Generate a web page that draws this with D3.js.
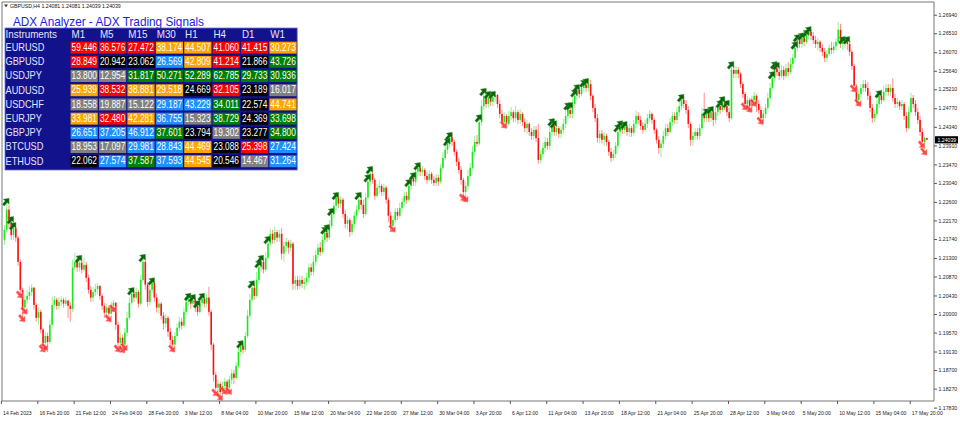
<!DOCTYPE html>
<html><head><meta charset="utf-8">
<script src="https://cdn.jsdelivr.net/npm/d3@7"></script>
<style>html,body{margin:0;padding:0;background:#fff;}svg{display:block;}</style>
</head><body>
<svg id="chart" width="960" height="422"></svg>
<script>
// ---------------- DATA ----------------
const chartSymbol = "GBPUSD,H4";
const headerOHLC = [1.24081, 1.24081, 1.24039, 1.24039];
const title = "ADX Analyzer - ADX Trading Signals";
const firstOpen = 1.2172;
const closes = [
1.2195,1.2242,1.2213,1.2183,1.2199,1.2177,1.2121,1.2056,1.2015,1.2033,
1.2042,1.2051,1.2061,1.2021,1.1991,1.2005,1.1964,1.1933,1.1949,1.1935,
1.1975,1.2021,1.2033,1.2019,1.2028,1.2033,1.2024,1.2031,1.2019,1.2012,
1.2108,1.2121,1.2108,1.2119,1.2103,1.2114,1.2084,1.2056,1.2038,1.2051,
1.2058,1.2065,1.2042,1.2019,1.2003,1.2015,1.2001,1.2019,1.2026,1.1975,
1.1933,1.1945,1.1929,1.1957,1.1991,1.2026,1.2047,1.2038,1.2051,1.2024,
1.2079,1.2121,1.2068,1.2028,1.2056,1.2072,1.2038,1.2015,1.2024,1.1996,
1.1978,1.1991,1.1959,1.1940,1.1929,1.1949,1.1968,1.1982,1.1973,1.2005,
1.2028,1.2035,1.2024,1.2033,1.2019,1.2005,1.2026,1.2035,1.2024,1.2038,
1.2005,1.1929,1.1859,1.1829,1.1838,1.1819,1.1833,1.1843,1.1829,1.1848,
1.1862,1.1852,1.1880,1.1912,1.1926,1.1917,1.1949,1.1996,1.2033,1.2061,
1.2042,1.2079,1.2108,1.2121,1.2103,1.2130,1.2163,1.2186,1.2172,1.2190,
1.2177,1.2186,1.2140,1.2158,1.2167,1.2154,1.2163,1.2070,1.2079,1.2065,
1.2079,1.2070,1.2074,1.2084,1.2108,1.2098,1.2121,1.2137,1.2154,1.2144,
1.2172,1.2188,1.2177,1.2204,1.2232,1.2251,1.2270,1.2256,1.2265,1.2232,
1.2209,1.2218,1.2190,1.2209,1.2228,1.2242,1.2265,1.2253,1.2232,1.2270,
1.2307,1.2325,1.2311,1.2274,1.2293,1.2297,1.2283,1.2293,1.2265,1.2228,
1.2204,1.2218,1.2237,1.2228,1.2246,1.2260,1.2274,1.2265,1.2297,1.2316,
1.2307,1.2330,1.2339,1.2330,1.2334,1.2320,1.2311,1.2325,1.2311,1.2304,
1.2316,1.2307,1.2339,1.2362,1.2381,1.2395,1.2409,1.2399,1.2376,1.2353,
1.2334,1.2311,1.2283,1.2297,1.2320,1.2339,1.2376,1.2399,1.2395,1.2445,
1.2482,1.2506,1.2487,1.2501,1.2492,1.2503,1.2508,1.2487,1.2464,1.2445,
1.2459,1.2441,1.2459,1.2468,1.2454,1.2468,1.2450,1.2464,1.2445,1.2431,
1.2441,1.2422,1.2413,1.2427,1.2408,1.2357,1.2371,1.2385,1.2399,1.2390,
1.2422,1.2436,1.2422,1.2431,1.2418,1.2427,1.2441,1.2459,1.2473,1.2464,
1.2487,1.2506,1.2520,1.2510,1.2524,1.2531,1.2524,1.2533,1.2506,1.2478,
1.2454,1.2408,1.2418,1.2404,1.2413,1.2399,1.2376,1.2362,1.2371,1.2390,
1.2422,1.2436,1.2427,1.2434,1.2422,1.2431,1.2420,1.2441,1.2459,1.2450,
1.2436,1.2427,1.2441,1.2454,1.2464,1.2450,1.2427,1.2404,1.2385,1.2395,
1.2413,1.2431,1.2422,1.2445,1.2459,1.2450,1.2468,1.2482,1.2496,1.2487,
1.2473,1.2441,1.2404,1.2413,1.2422,1.2413,1.2431,1.2464,1.2454,1.2464,
1.2454,1.2468,1.2450,1.2468,1.2482,1.2473,1.2492,1.2482,1.2468,1.2454,
1.2566,1.2557,1.2566,1.2557,1.2533,1.2510,1.2487,1.2496,1.2482,1.2496,
1.2506,1.2487,1.2473,1.2454,1.2464,1.2478,1.2501,1.2524,1.2547,1.2570,
1.2561,1.2552,1.2566,1.2552,1.2570,1.2561,1.2580,1.2594,1.2617,1.2635,
1.2626,1.2640,1.2631,1.2647,1.2654,1.2645,1.2635,1.2626,1.2631,1.2617,
1.2608,1.2594,1.2603,1.2617,1.2612,1.2621,1.2631,1.2659,1.2626,1.2631,
1.2635,1.2626,1.2608,1.2575,1.2529,1.2496,1.2510,1.2524,1.2533,1.2524,
1.2506,1.2478,1.2454,1.2464,1.2487,1.2506,1.2496,1.2515,1.2524,1.2515,
1.2524,1.2501,1.2487,1.2492,1.2482,1.2487,1.2459,1.2431,1.2468,1.2501,
1.2487,1.2468,1.2450,1.2422,1.2399,1.24081,1.24039];
const highs = [
1.2206,1.2265,1.2253,1.2223,1.2209,1.2204,1.2181,1.2126,1.2061,1.2045,
1.2056,1.2065,1.2070,1.2063,1.2026,1.2015,1.2010,1.1968,1.1959,1.1957,
1.1987,1.2040,1.2042,1.2038,1.2038,1.2042,1.2038,1.2040,1.2033,1.2028,
1.2126,1.2142,1.2135,1.2133,1.2126,1.2130,1.2121,1.2091,1.2065,1.2063,
1.2070,1.2072,1.2068,1.2047,1.2026,1.2024,1.2021,1.2028,1.2033,1.2028,
1.1982,1.1957,1.1952,1.1968,1.2005,1.2038,1.2058,1.2056,1.2061,1.2056,
1.2091,1.2135,1.2126,1.2074,1.2065,1.2081,1.2074,1.2047,1.2033,1.2028,
1.2005,1.2001,1.1996,1.1968,1.1949,1.1957,1.1978,1.1994,1.1991,1.2015,
1.2040,1.2045,1.2042,1.2042,1.2038,1.2028,1.2035,1.2045,1.2040,1.2047,
1.2063,1.2010,1.1933,1.1866,1.1848,1.1843,1.1843,1.1852,1.1848,1.1857,
1.1871,1.1871,1.1889,1.1924,1.1935,1.1933,1.1959,1.2010,1.2047,1.2074,
1.2070,1.2098,1.2121,1.2133,1.2130,1.2144,1.2177,1.2197,1.2195,1.2202,
1.2195,1.2195,1.2199,1.2167,1.2177,1.2172,1.2172,1.2167,1.2089,1.2089,
1.2089,1.2089,1.2084,1.2096,1.2117,1.2117,1.2135,1.2149,1.2163,1.2167,
1.2181,1.2199,1.2204,1.2218,1.2242,1.2260,1.2279,1.2277,1.2274,1.2270,
1.2242,1.2228,1.2223,1.2218,1.2237,1.2253,1.2279,1.2277,1.2265,1.2281,
1.2320,1.2339,1.2339,1.2316,1.2302,1.2311,1.2302,1.2302,1.2297,1.2270,
1.2237,1.2228,1.2246,1.2246,1.2258,1.2270,1.2283,1.2283,1.2309,1.2325,
1.2325,1.2341,1.2348,1.2346,1.2343,1.2339,1.2330,1.2334,1.2330,1.2320,
1.2325,1.2323,1.2348,1.2376,1.2390,1.2404,1.2418,1.2420,1.2404,1.2381,
1.2362,1.2343,1.2316,1.2307,1.2334,1.2350,1.2390,1.2413,1.2415,1.2459,
1.2496,1.2520,1.2513,1.2513,1.2508,1.2513,1.2517,1.2510,1.2496,1.2473,
1.2468,1.2464,1.2471,1.2480,1.2473,1.2482,1.2473,1.2475,1.2468,1.2454,
1.2450,1.2445,1.2431,1.2436,1.2436,1.2441,1.2381,1.2397,1.2411,1.2408,
1.2434,1.2450,1.2445,1.2441,1.2436,1.2436,1.2452,1.2471,1.2487,1.2487,
1.2499,1.2517,1.2529,1.2529,1.2536,1.2540,1.2543,1.2547,1.2543,1.2510,
1.2487,1.2464,1.2427,1.2427,1.2422,1.2418,1.2404,1.2385,1.2381,1.2399,
1.2436,1.2445,1.2445,1.2443,1.2438,1.2441,1.2436,1.2450,1.2471,1.2468,
1.2459,1.2445,1.2450,1.2464,1.2473,1.2468,1.2454,1.2431,1.2413,1.2404,
1.2425,1.2441,1.2441,1.2454,1.2468,1.2468,1.2480,1.2492,1.2506,1.2506,
1.2496,1.2482,1.2445,1.2422,1.2431,1.2431,1.2441,1.2478,1.2513,1.2473,
1.2473,1.2478,1.2473,1.2482,1.2492,1.2492,1.2501,1.2499,1.2492,1.2478,
1.2582,1.2575,1.2575,1.2573,1.2561,1.2538,1.2515,1.2506,1.2501,1.2506,
1.2515,1.2510,1.2496,1.2482,1.2473,1.2487,1.2513,1.2536,1.2559,1.2582,
1.2580,1.2575,1.2577,1.2575,1.2580,1.2584,1.2594,1.2603,1.2628,1.2645,
1.2645,1.2649,1.2649,1.2656,1.2663,1.2661,1.2654,1.2645,1.2640,1.2635,
1.2626,1.2617,1.2612,1.2626,1.2631,1.2631,1.2640,1.2677,1.2673,1.2640,
1.2645,1.2640,1.2635,1.2612,1.2580,1.2533,1.2520,1.2533,1.2543,1.2543,
1.2538,1.2515,1.2487,1.2473,1.2496,1.2515,1.2520,1.2529,1.2533,1.2533,
1.2533,1.2547,1.2510,1.2501,1.2496,1.2496,1.2492,1.2468,1.2482,1.2513,
1.2508,1.2496,1.2478,1.2459,1.2431,1.2411,1.24081];
const lows = [
1.2160,1.2190,1.2199,1.2172,1.2172,1.2167,1.2112,1.2042,1.1987,1.2005,
1.2024,1.2033,1.2042,1.2010,1.1982,1.1975,1.1955,1.1917,1.1921,1.1912,
1.1931,1.1973,1.2015,1.2010,1.2010,1.2019,1.2015,1.2019,1.1991,1.1982,
1.2005,1.2103,1.2098,1.2098,1.2094,1.2098,1.2074,1.2047,1.2028,1.2028,
1.2042,1.2045,1.2033,1.2010,1.1991,1.1991,1.1987,1.1991,1.2010,1.1964,
1.1917,1.1919,1.1915,1.1921,1.1949,1.1987,1.2021,1.2028,1.2033,1.2015,
1.2019,1.2074,1.2056,1.2017,1.2021,1.2049,1.2028,1.2003,1.2001,1.1987,
1.1964,1.1968,1.1947,1.1929,1.1917,1.1921,1.1940,1.1959,1.1964,1.1968,
1.1998,1.2019,1.2012,1.2017,1.2005,1.1996,1.2001,1.2019,1.2015,1.2015,
1.1996,1.1917,1.1843,1.1815,1.1810,1.1805,1.1810,1.1819,1.1815,1.1819,
1.1838,1.1838,1.1848,1.1875,1.1903,1.1908,1.1912,1.1945,1.1991,1.2028,
1.2033,1.2038,1.2070,1.2098,1.2094,1.2098,1.2126,1.2158,1.2163,1.2163,
1.2167,1.2167,1.2126,1.2121,1.2144,1.2140,1.2144,1.2056,1.2056,1.2056,
1.2058,1.2061,1.2056,1.2065,1.2074,1.2089,1.2089,1.2112,1.2130,1.2135,
1.2140,1.2163,1.2167,1.2172,1.2199,1.2223,1.2242,1.2246,1.2246,1.2223,
1.2199,1.2195,1.2179,1.2183,1.2199,1.2218,1.2237,1.2242,1.2223,1.2228,
1.2265,1.2297,1.2302,1.2265,1.2270,1.2279,1.2274,1.2274,1.2256,1.2213,
1.2190,1.2195,1.2209,1.2218,1.2223,1.2237,1.2251,1.2256,1.2260,1.2288,
1.2297,1.2297,1.2320,1.2320,1.2320,1.2311,1.2302,1.2307,1.2302,1.2297,
1.2297,1.2297,1.2302,1.2334,1.2357,1.2371,1.2385,1.2390,1.2367,1.2343,
1.2325,1.2300,1.2267,1.2265,1.2288,1.2316,1.2334,1.2367,1.2388,1.2390,
1.2436,1.2473,1.2478,1.2478,1.2482,1.2482,1.2492,1.2478,1.2454,1.2436,
1.2436,1.2431,1.2436,1.2450,1.2445,1.2445,1.2441,1.2441,1.2436,1.2422,
1.2418,1.2413,1.2404,1.2404,1.2399,1.2348,1.2350,1.2362,1.2376,1.2381,
1.2381,1.2413,1.2413,1.2413,1.2408,1.2408,1.2418,1.2431,1.2450,1.2454,
1.2454,1.2478,1.2496,1.2501,1.2506,1.2515,1.2515,1.2515,1.2496,1.2468,
1.2445,1.2397,1.2395,1.2395,1.2390,1.2390,1.2367,1.2353,1.2355,1.2362,
1.2381,1.2413,1.2418,1.2418,1.2413,1.2411,1.2411,1.2413,1.2431,1.2441,
1.2427,1.2418,1.2422,1.2431,1.2445,1.2441,1.2418,1.2395,1.2371,1.2364,
1.2385,1.2404,1.2413,1.2418,1.2436,1.2441,1.2441,1.2459,1.2473,1.2478,
1.2464,1.2431,1.2390,1.2390,1.2404,1.2404,1.2404,1.2427,1.2445,1.2445,
1.2445,1.2445,1.2436,1.2441,1.2459,1.2464,1.2468,1.2473,1.2459,1.2445,
1.2450,1.2547,1.2547,1.2547,1.2524,1.2501,1.2478,1.2473,1.2473,1.2478,
1.2487,1.2468,1.2464,1.2445,1.2441,1.2454,1.2473,1.2496,1.2520,1.2538,
1.2552,1.2543,1.2547,1.2543,1.2547,1.2552,1.2556,1.2570,1.2584,1.2608,
1.2617,1.2617,1.2621,1.2626,1.2635,1.2635,1.2626,1.2617,1.2612,1.2608,
1.2598,1.2584,1.2584,1.2598,1.2603,1.2603,1.2612,1.2626,1.2617,1.2612,
1.2617,1.2612,1.2598,1.2566,1.2520,1.2487,1.2487,1.2501,1.2515,1.2515,
1.2496,1.2468,1.2443,1.2445,1.2459,1.2478,1.2487,1.2492,1.2506,1.2506,
1.2506,1.2492,1.2478,1.2478,1.2473,1.2473,1.2450,1.2422,1.2427,1.2464,
1.2478,1.2459,1.2441,1.2413,1.2390,1.2374,1.24039];
const upSignals = [1,3,4,33,56,61,65,81,83,85,87,104,109,112,113,116,141,142,144,146,156,160,161,178,180,182,195,196,209,211,213,215,241,242,248,249,251,252,255,256,270,271,273,298,309,311,315,316,318,320,338,339,340,348,349,351,353,354,369,371,385];
const downSignals = [7,8,9,17,18,46,48,50,52,53,74,93,95,97,99,171,202,203,220,326,328,330,333,374,376,404,405];
const xTickEvery = 16;
const xTickLabels = ["14 Feb 2023","16 Feb 20:00","21 Feb 12:00","24 Feb 04:00","28 Feb 20:00","3 Mar 12:00","8 Mar 04:00","10 Mar 20:00","15 Mar 12:00","20 Mar 04:00","22 Mar 20:00","27 Mar 12:00","30 Mar 04:00","3 Apr 20:00","6 Apr 12:00","11 Apr 04:00","13 Apr 20:00","18 Apr 12:00","21 Apr 04:00","25 Apr 20:00","28 Apr 12:00","3 May 04:00","5 May 20:00","10 May 12:00","15 May 04:00","17 May 20:00"];
const yTickValues = [1.26940,1.26510,1.26070,1.25640,1.25210,1.24770,1.24340,1.23910,1.23470,1.23040,1.22600,1.22170,1.21740,1.21300,1.20870,1.20430,1.20000,1.19570,1.19130,1.18700,1.18270,1.17830];
const instruments = ["EURUSD","GBPUSD","USDJPY","AUDUSD","USDCHF","EURJPY","GBPJPY","BTCUSD","ETHUSD"];
const timeframes = ["M1","M5","M15","M30","H1","H4","D1","W1"];
const adxValues = [
[59.446,36.576,27.472,38.174,44.507,41.060,41.415,30.273],
[28.849,20.942,23.062,26.569,42.809,41.214,21.866,43.726],
[13.800,12.954,31.817,50.271,52.289,62.785,29.733,30.936],
[25.939,38.532,38.881,29.518,24.669,32.105,23.189,16.017],
[18.558,19.887,15.122,29.187,43.229,34.011,22.574,44.741],
[33.981,32.480,42.281,36.755,15.323,38.729,24.369,33.698],
[26.651,37.205,46.912,37.601,23.794,19.302,23.277,34.800],
[18.953,17.097,29.981,28.843,44.469,23.088,25.398,27.424],
[22.062,27.574,37.587,37.593,44.545,20.546,14.467,31.264]];
const adxStates = [
["strongSell","strongSell","strongSell","weakSell","weakSell","strongSell","strongSell","weakSell"],
["strongSell","flat","flat","weakBuy","weakSell","strongSell","flat","strongBuy"],
["noTrend","noTrend","strongBuy","strongBuy","strongBuy","strongBuy","strongBuy","strongBuy"],
["weakSell","strongSell","weakSell","weakSell","flat","strongSell","flat","noTrend"],
["noTrend","noTrend","noTrend","weakBuy","weakBuy","strongBuy","flat","weakSell"],
["weakSell","strongSell","weakSell","weakBuy","noTrend","strongBuy","flat","strongBuy"],
["weakBuy","weakBuy","weakBuy","strongBuy","flat","noTrend","flat","strongBuy"],
["noTrend","noTrend","weakBuy","weakBuy","weakSell","flat","strongSell","weakBuy"],
["flat","weakBuy","strongBuy","weakBuy","weakSell","flat","noTrend","weakBuy"]];

// ---------------- DRAW ----------------
const stateColor = {strongSell:"#ff0000", weakSell:"#ffa500", strongBuy:"#008000", weakBuy:"#1e90ff", flat:"#000000", noTrend:"#808080"};
const FONT = "'Liberation Sans', Arial, sans-serif";
const svg = d3.select("#chart");
const plot = {left:2, right:934, top:2, bottom:401};
const n = closes.length;
const bars = closes.map((c, i) => ({i, o: i ? closes[i-1] : firstOpen, h: highs[i], l: lows[i], c}));

const y = d3.scaleLinear().domain([1.17830, 1.26940]).range([407.6, 14.7]);
const x = d3.scaleBand().domain(d3.range(n)).range([3.3, 3.3 + n * 2.272]);
const cx = i => x(i) + x.bandwidth() / 2;

svg.append("rect").attr("width", 960).attr("height", 422).attr("fill", "#fff");
svg.append("clipPath").attr("id", "clip").append("rect")
  .attr("x", plot.left).attr("y", plot.top).attr("width", plot.right - plot.left).attr("height", plot.bottom - plot.top);

const g = svg.append("g").attr("clip-path", "url(#clip)");
const bull = "#1ee61e", bear = "#ff1010";
g.selectAll("line.wick").data(bars).join("line").attr("class", "wick")
  .attr("x1", d => cx(d.i)).attr("x2", d => cx(d.i))
  .attr("y1", d => y(d.h)).attr("y2", d => y(d.l))
  .attr("stroke", d => d.c >= d.o ? bull : bear).attr("stroke-width", 0.8).attr("stroke-opacity", 0.6);
g.selectAll("rect.body").data(bars).join("rect").attr("class", "body")
  .attr("x", d => cx(d.i) - 0.8).attr("width", 1.6)
  .attr("y", d => y(Math.max(d.o, d.c)))
  .attr("height", d => Math.max(0.8, Math.abs(y(d.o) - y(d.c))))
  .attr("fill", d => d.c >= d.o ? bull : bear);

const arrowPath = "M0,-4.5L3.8,0L1.3,0L1.3,4.5L-1.3,4.5L-1.3,0L-3.8,0Z";
g.selectAll("path.up").data(upSignals).join("path").attr("class", "up")
  .attr("d", arrowPath)
  .attr("transform", i => `translate(${cx(i) - 0.5},${y(highs[i]) + 2}) rotate(40)`)
  .attr("fill", "#0a640a").attr("stroke", "#3a9a3a").attr("stroke-width", 0.4);
g.selectAll("path.dn").data(downSignals).join("path").attr("class", "dn")
  .attr("d", arrowPath)
  .attr("transform", i => `translate(${cx(i) - 0.5},${y(lows[i]) - 1}) rotate(140)`)
  .attr("fill", "#ff2a2a").attr("fill-opacity", 0.85).attr("stroke", "#ff9a9a").attr("stroke-width", 0.4);

// frame
svg.append("path").attr("d", `M${plot.left},${plot.bottom}V${plot.top}H${plot.right}V${plot.bottom}H${plot.left}`)
  .attr("fill", "none").attr("stroke", "#777").attr("stroke-width", 1);

// y axis
const yAxis = svg.append("g").attr("transform", `translate(${plot.right},0)`)
  .call(d3.axisRight(y).tickValues(yTickValues).tickSize(3).tickPadding(1.5).tickFormat(d3.format(".5f")));
yAxis.select(".domain").remove();
yAxis.selectAll("line").attr("stroke", "#555");
yAxis.selectAll("text").attr("font-family", FONT).attr("font-size", 5.2).attr("fill", "#222");

// current price marker
const lastY = y(closes[n-1]);
svg.append("rect").attr("x", 935).attr("y", lastY - 3.6).attr("width", 23).attr("height", 7.2).attr("fill", "#000");
svg.append("text").attr("x", 937.5).attr("y", lastY + 1.8).attr("font-family", FONT).attr("font-size", 5.2)
  .attr("fill", "#fff").text(d3.format(".5f")(closes[n-1]));

// x axis
const xAxis = svg.append("g").attr("transform", `translate(-3,${plot.bottom})`)
  .call(d3.axisBottom(x).tickValues(d3.range(0, n, xTickEvery).filter(i => i / xTickEvery < xTickLabels.length))
    .tickFormat(i => xTickLabels[i / xTickEvery]).tickSize(3).tickPadding(7));
xAxis.select(".domain").remove();
xAxis.selectAll("line").attr("stroke", "#555");
xAxis.selectAll("text").attr("text-anchor", "start").attr("dx", x.bandwidth() / 2 + 0.5)
  .attr("font-family", FONT).attr("font-size", 5.1).attr("fill", "#222");

// top-left header
svg.append("path").attr("d", "M4,4.5L8,4.5L6,7.2Z").attr("fill", "#333");
svg.append("text").attr("x", 10).attr("y", 8).attr("font-family", FONT).attr("font-size", 5.2).attr("fill", "#111")
  .text(chartSymbol + "  " + headerOHLC.map(d3.format(".5f")).join(" "));

// ---------------- TABLE ----------------
const T = {x:5, y:28, labelW:65, cellW:28.4, rowH:14.2};
const tw = T.labelW + timeframes.length * T.cellW;
const tg = svg.append("g");
tg.append("rect").attr("x", T.x).attr("y", T.y).attr("width", tw).attr("height", T.rowH * (instruments.length + 1))
  .attr("fill", "#12128c").attr("stroke", "#7070e0").attr("stroke-width", 0.8);
svg.append("text").attr("x", 13).attr("y", 25.6).attr("font-family", FONT).attr("font-size", 12.6)
  .attr("fill", "#1c1ce6").attr("textLength", 191).attr("lengthAdjust", "spacingAndGlyphs").text(title);

function squeeze(sel, f) { sel.each(function(){ const w = this.getComputedTextLength(); d3.select(this).attr("textLength", w * f).attr("lengthAdjust", "spacingAndGlyphs"); }); }

tg.append("text").attr("x", T.x + 0.5).attr("y", T.y + 9.8).attr("font-family", FONT).attr("font-size", 10.6)
  .attr("fill", "#e4e4ff").text("Instruments").call(squeeze, 0.93);
tg.selectAll("text.tf").data(timeframes).join("text").attr("class", "tf")
  .attr("x", (d, j) => T.x + T.labelW + j * T.cellW + 1.5).attr("y", T.y + 9.8)
  .attr("font-family", FONT).attr("font-size", 10.6).attr("fill", "#e4e4ff").text(d => d).call(squeeze, 0.93);

const rows = tg.selectAll("g.row").data(instruments).join("g").attr("class", "row")
  .attr("transform", (d, r) => `translate(0,${T.y + T.rowH * (r + 1)})`);
rows.append("text").attr("x", T.x + 0.5).attr("y", 8.8).attr("font-family", FONT).attr("font-size", 10.6)
  .attr("fill", "#e4e4ff").text(d => d).call(squeeze, 0.87);
rows.each(function(d, r) {
  const row = d3.select(this);
  const cells = row.selectAll("g.cell").data(adxValues[r].map((v, j) => ({v, s: adxStates[r][j], j}))).join("g").attr("class", "cell")
    .attr("transform", c => `translate(${T.x + T.labelW + c.j * T.cellW},0)`);
  cells.append("rect").attr("x", 0.6).attr("y", -0.5).attr("width", T.cellW - 1.2).attr("height", 11.9)
    .attr("fill", c => stateColor[c.s]);
  cells.append("text").attr("x", 1.5).attr("y", 8.6).attr("font-family", FONT).attr("font-size", 10)
    .attr("fill", "#fff").attr("textLength", 25.5).attr("lengthAdjust", "spacingAndGlyphs")
    .text(c => d3.format(".3f")(c.v));
});
</script>
</body></html>
